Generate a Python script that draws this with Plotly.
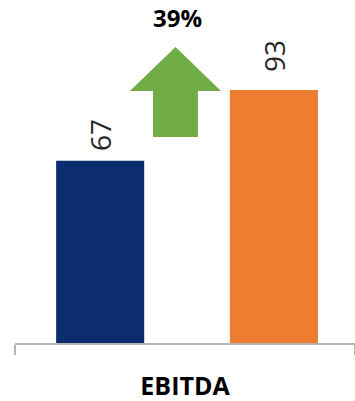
import plotly.graph_objects as go

# EBITDA comparison, previous vs current period
category = ["EBITDA"]
periods = ["Previous", "Current"]
ebitda = [67, 93]
bar_colors = ["#0B2D6F", "#ED7D31"]
growth_pct = round((ebitda[1] - ebitda[0]) / ebitda[0] * 100)

fig = go.Figure()

# bar placement within the single category slot (data units)
bar_width = 0.259
bar_offsets = [-0.379, 0.132]
label_gaps = [8, 16]

for name, val, col, off in zip(periods, ebitda, bar_colors, bar_offsets):
    fig.add_trace(go.Bar(
        x=category, y=[val], name=name,
        marker=dict(color=col, line=dict(width=0)),
        width=bar_width, offset=off,
        showlegend=False, hoverinfo="skip",
    ))

# rotated value labels above each bar
for val, off, gap in zip(ebitda, bar_offsets, label_gaps):
    fig.add_annotation(
        x=off + bar_width / 2, y=val, xref="x", yref="y",
        text=str(val), textangle=-90, showarrow=False,
        xanchor="center", yanchor="bottom", yshift=gap,
        font=dict(family="Open Sans", size=28, color="#262626"),
    )

# green growth arrow between the bars
ax_c, head_half, shaft_half = -0.028, 0.134, 0.066
y_tip, y_head, y_tail = 108.8, 92.6, 75.7
arrow_path = (
    f"M {ax_c - shaft_half} {y_tail} "
    f"L {ax_c + shaft_half} {y_tail} "
    f"L {ax_c + shaft_half} {y_head} "
    f"L {ax_c + head_half} {y_head} "
    f"L {ax_c} {y_tip} "
    f"L {ax_c - head_half} {y_head} "
    f"L {ax_c - shaft_half} {y_head} Z"
)
fig.add_shape(type="path", path=arrow_path, xref="x", yref="y",
              fillcolor="#70AD47", line=dict(width=0), layer="above")

fig.add_annotation(
    x=ax_c + 0.005, y=119.5, xref="x", yref="y",
    text=f"<b>{growth_pct}%</b>", showarrow=False,
    xanchor="center", yanchor="middle",
    font=dict(family="Open Sans", size=24, color="#000000"),
)

fig.update_layout(
    width=355, height=401,
    margin=dict(l=15, r=0, t=0, b=58),
    paper_bgcolor="white", plot_bgcolor="white",
    barmode="overlay",
    xaxis=dict(
        type="category", range=[-0.5, 0.5],
        showline=True, linecolor="#B4B4B4", linewidth=2,
        ticks="outside", tickson="boundaries", ticklen=10,
        tickcolor="#B4B4B4", tickwidth=2,
        tickfont=dict(family="Open Sans", size=25, color="#000000"),
        tickprefix="<b>", ticksuffix="</b>",
        ticklabelstandoff=20,
        showgrid=False, zeroline=False, fixedrange=True,
    ),
    yaxis=dict(range=[0, 126.1], visible=False, showgrid=False,
               zeroline=False, fixedrange=True),
)

fig.write_html("out.html")
